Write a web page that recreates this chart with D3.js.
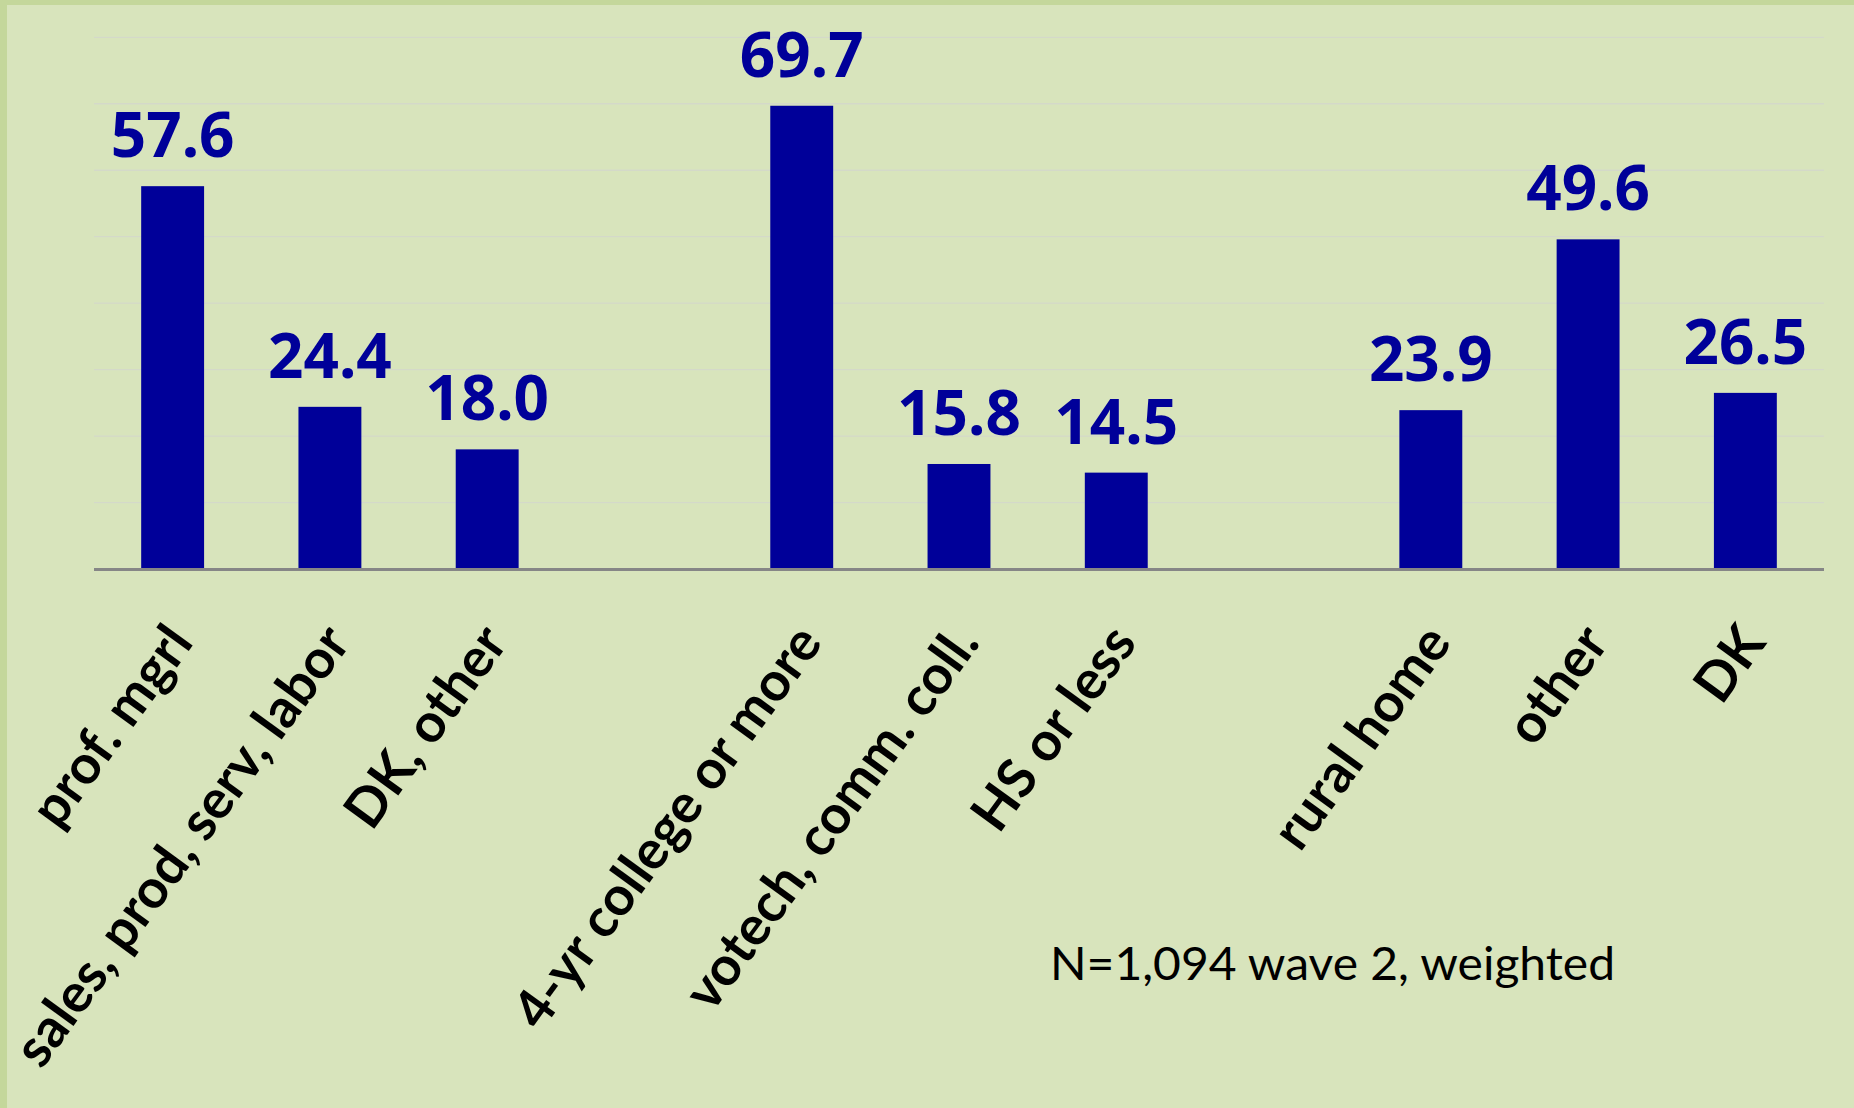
<!DOCTYPE html>
<html>
<head>
<meta charset="utf-8">
<script src="https://cdn.jsdelivr.net/npm/d3@7"></script>
<style>
  body { margin: 0; background: #d8e4bc; }
  svg { display: block; }
</style>
</head>
<body>
<svg id="chart" width="1854" height="1108"></svg>
<script>
// categories, in order, with blank slots between the three groups
const categories = ['prof. mgrl', 'sales, prod, serv, labor', 'DK, other', '',
  '4-yr college or more', 'votech, comm. coll.', 'HS or less', '',
  'rural home', 'other', 'DK']
const values = [57.6, 24.4, 18.0, null, 69.7, 15.8, 14.5, null, 23.9, 49.6, 26.5]
const yTicks = [0, 10, 20, 30, 40, 50, 60, 70, 80]
const note = 'N=1,094 wave 2, weighted'

const width = 1854
const height = 1108
const plot = { left: 94, right: 1824, top: 37.3, bottom: 569 }

const svg = d3.select('#chart')

// background + the green strip along top and left
svg.append('rect').attr('width', width).attr('height', height).attr('fill', '#d8e4bc')
svg.append('rect').attr('width', width).attr('height', 5).attr('fill', '#c4d79b')
svg.append('rect').attr('width', 7).attr('height', height).attr('fill', '#c4d79b')

const slots = categories.map((c, i) => i)

const x = d3.scaleBand()
  .domain(slots)
  .range([plot.left, plot.right])
  .paddingInner(0.6)
  .paddingOuter(0.3)

const y = d3.scaleLinear()
  .domain([0, 80])
  .range([plot.bottom, plot.top])

// gridlines
svg.append('g')
  .selectAll('line')
  .data(yTicks.slice(1))
  .join('line')
  .attr('x1', plot.left)
  .attr('x2', plot.right)
  .attr('y1', d => y(d))
  .attr('y2', d => y(d))
  .attr('stroke', '#d4d9c9')
  .attr('stroke-width', 1.3)

const bars = slots.filter(i => values[i] !== null)

svg.append('g')
  .selectAll('rect')
  .data(bars)
  .join('rect')
  .attr('x', i => x(i))
  .attr('y', i => y(values[i]))
  .attr('width', x.bandwidth())
  .attr('height', i => y(0) - y(values[i]))
  .attr('fill', '#000099')

// baseline
svg.append('line')
  .attr('x1', plot.left)
  .attr('x2', plot.right)
  .attr('y1', y(0) + 0.5)
  .attr('y2', y(0) + 0.5)
  .attr('stroke', '#868686')
  .attr('stroke-width', 3)

// value labels
svg.append('g')
  .selectAll('text')
  .data(bars)
  .join('text')
  .attr('x', i => x(i) + x.bandwidth() / 2)
  .attr('y', i => y(values[i]) - 29)
  .attr('text-anchor', 'middle')
  .attr('font-family', '"Noto Sans", sans-serif')
  .attr('font-weight', 'bold')
  .attr('font-size', 62)
  .attr('fill', '#000099')
  .text(i => values[i].toFixed(1))

// category labels, rotated
svg.append('g')
  .selectAll('text')
  .data(slots.filter(i => categories[i] !== ''))
  .join('text')
  .attr('transform', i => 'translate(' + (x(i) + x.bandwidth() / 2 + 22) + ',' + (y(0) + 74) + ') rotate(-54)')
  .attr('text-anchor', 'end')
  .attr('font-family', 'Lato, sans-serif')
  .attr('font-weight', 'bold')
  .attr('font-size', 54)
  .attr('fill', '#000000')
  .text(i => categories[i])

svg.append('text')
  .attr('x', 1050)
  .attr('y', 980)
  .attr('font-family', 'Lato, sans-serif')
  .attr('font-size', 47)
  .attr('textLength', 565)
  .attr('lengthAdjust', 'spacingAndGlyphs')
  .attr('fill', '#000000')
  .text(note)
</script>
</body>
</html>
